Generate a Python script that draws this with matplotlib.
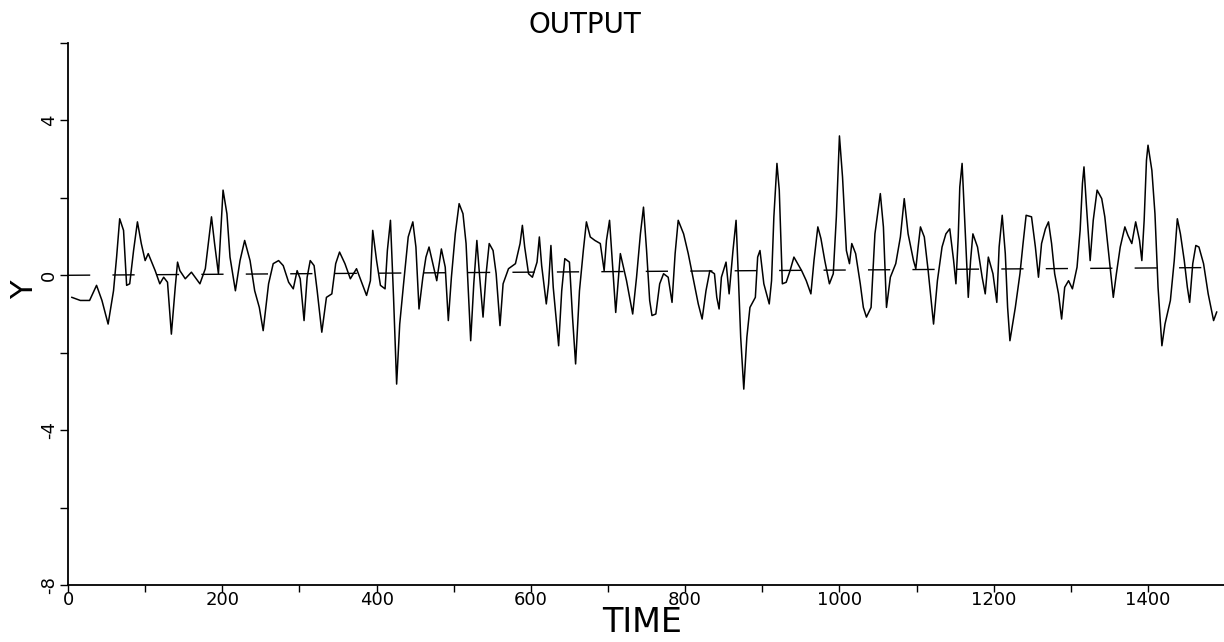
import numpy as np
import matplotlib.pyplot as plt
from matplotlib.ticker import MultipleLocator

# series, in four stretches of time
time_a = [5, 16, 28, 37, 44, 52, 59, 63, 67, 72, 76, 80, 85, 90, 95, 100, 104, 113, 119, 124,
          129, 134, 139, 142, 145, 152, 160, 171, 178, 186, 190, 195, 201, 206, 210, 217, 223, 229,
          236, 242, 248, 253, 260, 266, 273, 279, 286, 292, 297, 301, 306, 310, 314, 319, 323, 329,
          335, 342, 347, 352]
y_a = [-0.57, -0.65, -0.65, -0.26, -0.65, -1.26, -0.4, 0.47, 1.46, 1.16, -0.26, -0.22, 0.64, 1.38,
       0.82, 0.38, 0.56, 0.12, -0.22, -0.05, -0.18, -1.52, -0.31, 0.34, 0.12, -0.09, 0.08, -0.22,
       0.17, 1.51, 0.82, 0.04, 2.2, 1.59, 0.47, -0.4, 0.38, 0.9, 0.38, -0.4, -0.83, -1.43, -0.22,
       0.3, 0.38, 0.25, -0.18, -0.35, 0.12, -0.09, -1.17, -0.05, 0.38, 0.25, -0.4, -1.47, -0.57,
       -0.48, 0.3, 0.6]

time_b = [359, 366, 374, 387, 392, 395, 400, 405, 411, 414, 418, 422, 426, 430, 435, 441, 447, 451,
          455, 460, 464, 468, 474, 478, 484, 489, 493, 497, 502, 507, 512, 516, 522, 526, 530, 533,
          538, 542, 546, 551, 555, 560, 564, 571, 580, 586, 589, 592, 597, 602, 608, 611, 614, 620,
          623, 626, 629, 636, 640, 644, 650, 654, 658, 663, 668, 672, 677, 683, 690, 695, 698, 702,
          706, 710, 716]
y_b = [0.3, -0.09, 0.17, -0.52, -0.14, 1.16, 0.38, -0.26, -0.35, 0.64, 1.42, -0.57, -2.81, -1.26,
       -0.22, 0.99, 1.38, 0.73, -0.87, -0.05, 0.47, 0.73, 0.21, -0.14, 0.68, 0.21, -1.17, -0.05,
       1.07, 1.85, 1.59, 0.82, -1.69, -0.22, 0.9, 0.12, -1.08, 0.04, 0.82, 0.64, 0.04, -1.3, -0.22,
       0.17, 0.3, 0.82, 1.29, 0.73, 0.04, -0.05, 0.34, 0.99, 0.25, -0.74, -0.22, 0.77, -0.31, -1.82,
       -0.4, 0.43, 0.34, -1.08, -2.29, -0.4, 0.64, 1.38, 0.99, 0.9, 0.82, 0.12, 0.9, 1.42, 0.21,
       -0.96, 0.56]

time_c = [724, 732, 737, 742, 746, 750, 754, 757, 762, 767, 772, 778, 783, 787, 791, 798, 804, 811,
          817, 822, 827, 832, 838, 841, 844, 847, 853, 857, 862, 866, 869, 872, 876, 880, 884, 891,
          894, 897, 902, 909, 912, 915, 919, 922, 926, 931, 936, 941, 951, 957, 963, 967, 972, 976,
          981, 987, 992, 996, 1000, 1004, 1009, 1013, 1016, 1021, 1027, 1031, 1035, 1041, 1046, 1053,
          1057, 1061, 1066, 1073, 1079, 1084]
y_c = [-0.14, -1.0, -0.05, 1.07, 1.76, 0.64, -0.65, -1.04, -1.0, -0.22, 0.04, -0.05, -0.7, 0.56,
       1.42, 1.07, 0.56, -0.14, -0.74, -1.13, -0.4, 0.12, 0.04, -0.57, -0.87, -0.05, 0.34, -0.48,
       0.64, 1.42, -0.05, -1.6, -2.94, -1.6, -0.83, -0.57, 0.47, 0.64, -0.22, -0.74, -0.14, 1.51,
       2.89, 2.2, -0.22, -0.18, 0.12, 0.47, 0.12, -0.14, -0.48, 0.38, 1.25, 0.95, 0.38, -0.22, 0.04,
       1.51, 3.6, 2.54, 0.64, 0.3, 0.82, 0.56, -0.22, -0.83, -1.08, -0.83, 1.07, 2.11, 1.25, -0.83,
       -0.05, 0.3, 0.99, 1.98]

time_d = [1089, 1096, 1099, 1102, 1105, 1110, 1115, 1122, 1127, 1133, 1138, 1143, 1148, 1151, 1154,
          1156, 1159, 1163, 1167, 1170, 1173, 1179, 1185, 1189, 1193, 1199, 1204, 1207, 1211, 1215,
          1218, 1221, 1228, 1234, 1238, 1242, 1249, 1254, 1258, 1262, 1267, 1271, 1275, 1279, 1284,
          1288, 1292, 1297, 1302, 1308, 1312, 1315, 1317, 1320, 1325, 1329, 1334, 1340, 1344, 1349,
          1353, 1355, 1359, 1364, 1370, 1374, 1379, 1384, 1389, 1392, 1395, 1398, 1400, 1405, 1409,
          1413, 1418, 1422, 1429, 1434, 1438, 1442, 1447, 1451, 1454, 1458, 1462, 1466, 1472, 1478,
          1485, 1489]
y_d = [1.07, 0.38, 0.17, 0.73, 1.25, 0.99, 0.12, -1.26, -0.14, 0.73, 1.07, 1.2, 0.38, -0.22, 0.99,
       2.28, 2.89, 1.16, -0.57, 0.38, 1.07, 0.73, -0.05, -0.48, 0.47, 0.04, -0.7, 0.73, 1.55, 0.56,
       -0.83, -1.69, -0.83, 0.04, 0.82, 1.55, 1.51, 0.73, -0.05, 0.82, 1.2, 1.38, 0.82, 0.04, -0.48,
       -1.13, -0.31, -0.14, -0.35, 0.21, 1.16, 2.37, 2.8, 1.85, 0.38, 1.42, 2.2, 1.98, 1.51, 0.56,
       -0.22, -0.57, 0.04, 0.73, 1.25, 1.03, 0.82, 1.38, 0.9, 0.38, 1.42, 2.97, 3.36, 2.71, 1.59,
       -0.31, -1.82, -1.26, -0.65, 0.38, 1.46, 1.07, 0.38, -0.31, -0.7, 0.3, 0.77, 0.73, 0.3, -0.48,
       -1.17, -0.95]

# slowly rising dashed mean line
mean_t = [0, 1485]
mean_y = [0.0, 0.2]

x_ticks = [0, 200, 400, 600, 800, 1000, 1200, 1400]
y_ticks = [-8, -4, 0, 4]

time = np.array(time_a + time_b + time_c + time_d)
y = np.array(y_a + y_b + y_c + y_d)

plt.rcParams['font.family'] = ['DejaVu Sans']

fig = plt.figure(figsize=(12.24, 6.42), dpi=100)
ax = fig.add_axes([68 / 1224, 57 / 642, 1 - 68 / 1224, 542 / 642])

ax.plot(time, y, color='black', lw=1.1)
ax.plot(mean_t, mean_y, color='black', lw=1.0, dashes=(16, 16))

ax.set_xlim(0, 1498.5)
ax.set_ylim(-8, 6)
ax.spines['top'].set_visible(False)
ax.spines['right'].set_visible(False)
ax.spines['left'].set_linewidth(1.3)
ax.spines['bottom'].set_linewidth(1.3)

ax.set_xticks(x_ticks)
ax.set_xticklabels([str(v) for v in x_ticks])
ax.xaxis.set_minor_locator(MultipleLocator(100))
ax.set_yticks(y_ticks)
ax.set_yticklabels([str(v) for v in y_ticks])
ax.yaxis.set_minor_locator(MultipleLocator(2))

ax.tick_params(axis='x', which='both', direction='out', length=5, width=1, pad=-1, labelsize=13)
ax.tick_params(axis='y', which='both', direction='out', length=6, width=1, pad=1, labelsize=13)
for lab in ax.get_yticklabels():
    lab.set_rotation(90)
    lab.set_va('center')

fig.text(585 / 1224, 1 - 25 / 642, 'OUTPUT', ha='center', va='center', fontsize=20)
fig.text(642 / 1224, 1 - 623 / 642, 'TIME', ha='center', va='center', fontsize=24)
fig.text(25 / 1224, 1 - 290 / 642, 'Y', ha='center', va='center', fontsize=22, rotation=90)

fig.savefig('out.png', dpi=100)
